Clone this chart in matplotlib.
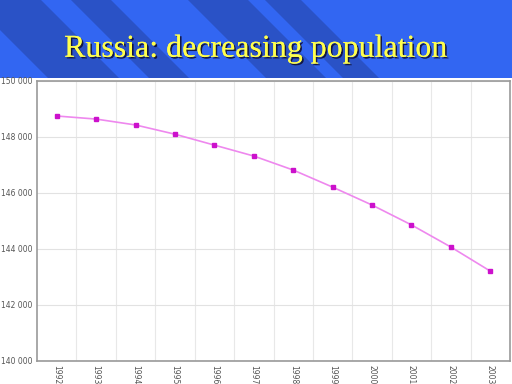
import matplotlib
matplotlib.use("Agg")
import matplotlib.pyplot as plt
from matplotlib.patches import Polygon
from matplotlib.ticker import FuncFormatter, MultipleLocator
import matplotlib.patheffects as pe

years = ["1992", "1993", "1994", "1995", "1996", "1997",
         "1998", "1999", "2000", "2001", "2002", "2003"]
population = [148750, 148640, 148430, 148100, 147710, 147320,
              146820, 146210, 145570, 144860, 144070, 143210]

TITLE = "Russia: decreasing population"
C_LIGHT = "#3266f2"
C_DARK = "#2a52c6"
C_LINE = "#ee88ee"
C_MARK = "#cc11cc"

W, H = 512, 384
BANNER = 78

fig = plt.figure(figsize=(W / 100, H / 100), dpi=100)
fig.patch.set_facecolor("white")

# ---- banner with diagonal stripes ----
bx = fig.add_axes([0, 1 - BANNER / H, 1, BANNER / H])
bx.set_xlim(0, W)
bx.set_ylim(BANNER, 0)
bx.axis("off")
bx.add_patch(plt.Rectangle((0, 0), W, BANNER, fc=C_LIGHT, ec="none"))
for x0, x1 in [(-30, 41), (71, 111), (188, 248), (265, 301)]:
    bx.add_patch(Polygon([(x0, 0), (x1, 0), (x1 + BANNER, BANNER), (x0 + BANNER, BANNER)],
                         closed=True, fc=C_DARK, ec="none"))
bx.text(256, 49, TITLE, ha="center", va="center", fontsize=23,
        family="Liberation Serif", color="#ffff4d",
        path_effects=[pe.withSimplePatchShadow(offset=(1.2, -1.2), shadow_rgbFace="#111133", alpha=0.9),
                      pe.Normal()])

# ---- chart ----
ax = fig.add_axes([37 / W, 1 - 361 / H, 473 / W, 280 / H])
x = list(range(len(years)))
ax.plot(x, population, color=C_LINE, lw=1.2, zorder=3)
ax.plot(x, population, ls="none", marker="s", ms=2.8, color=C_MARK, zorder=4)

ax.set_xlim(-0.5, len(years) - 0.5)
ax.set_ylim(140000, 150000)
ax.yaxis.set_major_locator(MultipleLocator(2000))
ax.yaxis.set_major_formatter(FuncFormatter(lambda v, p: f"{int(v):,}".replace(",", " ")))
ax.set_xticks(x)
ax.set_xticklabels(years, rotation=-90, fontsize=5.5, color="#555555")
ax.set_xticks([i + 0.5 for i in x[:-1]], minor=True)
ax.tick_params(axis="y", labelsize=5.5, labelcolor="#555555", length=0, pad=3)
ax.tick_params(axis="x", which="both", length=0, pad=3)
ax.grid(axis="y", which="major", color="#e2e2e2", lw=0.8)
ax.grid(axis="x", which="minor", color="#e8e8e8", lw=0.8)
ax.set_axisbelow(True)
for s in ax.spines.values():
    s.set_color("#999999")
    s.set_linewidth(1.2)

fig.savefig("out.png", dpi=100)
